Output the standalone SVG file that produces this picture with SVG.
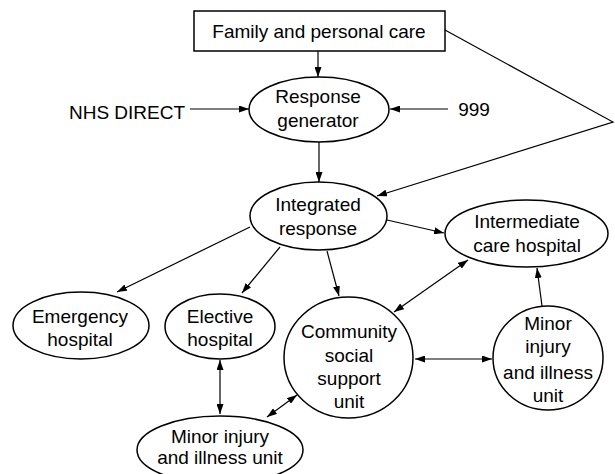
<svg xmlns="http://www.w3.org/2000/svg" width="615" height="474" viewBox="0 0 615 474">
<defs>
<marker id="ah" markerUnits="userSpaceOnUse" markerWidth="10" markerHeight="7" refX="10" refY="3.5" orient="auto-start-reverse">
<path d="M0,0 L10,3.5 L0,7 z" fill="#000"/>
</marker>
<style>
.n{fill:#fff;stroke:#000;stroke-width:1.5}
.t{font-family:"Liberation Sans",Arial,sans-serif;font-size:19px;fill:#000;text-anchor:middle}
.l{fill:none;stroke:#000;stroke-width:1.2}
.a{marker-end:url(#ah)}
.b{marker-start:url(#ah);marker-end:url(#ah)}
</style>
</defs>
<rect width="615" height="474" fill="#fff"/>
<g id="connectors">
<line class="l a" x1="318" y1="51" x2="318" y2="77"/>
<line class="l a" x1="190" y1="109" x2="249" y2="109"/>
<line class="l a" x1="448" y1="109" x2="390" y2="109"/>
<line class="l a" x1="319" y1="142" x2="319" y2="182"/>
<polyline class="l a" points="445,30 613,122 377,196"/>
<line class="l a" x1="387" y1="220" x2="444" y2="233"/>
<line class="l a" x1="250" y1="227" x2="117" y2="292"/>
<line class="l a" x1="280" y1="247" x2="242" y2="293"/>
<line class="l a" x1="327" y1="251" x2="339" y2="296"/>
<line class="l b" x1="394" y1="312" x2="468" y2="260"/>
<line class="l a" x1="542" y1="306" x2="537" y2="268"/>
<line class="l b" x1="415" y1="359" x2="492" y2="359"/>
<line class="l b" x1="220" y1="360" x2="220" y2="414"/>
<line class="l b" x1="267" y1="417" x2="297" y2="395"/>
</g>
<g id="family">
<rect class="n" x="194" y="11" width="251" height="40"/>
<text class="t" x="319" y="38">Family and personal care</text>
</g>
<g id="nhs-direct">
<text class="t" x="127" y="119">NHS DIRECT</text>
</g>
<g id="n999">
<text class="t" x="474" y="116">999</text>
</g>
<g id="response-generator">
<ellipse class="n" cx="319" cy="109.5" rx="70" ry="32.5"/>
<text class="t" x="318" y="103">Response</text>
<text class="t" x="318" y="127">generator</text>
</g>
<g id="integrated-response">
<ellipse class="n" cx="318.5" cy="216" rx="68.5" ry="34"/>
<text class="t" x="318" y="211">Integrated</text>
<text class="t" x="318" y="235">response</text>
</g>
<g id="intermediate-care-hospital">
<ellipse class="n" cx="526.5" cy="233.5" rx="81.5" ry="33.5"/>
<text class="t" x="527" y="228">Intermediate</text>
<text class="t" x="527" y="252">care hospital</text>
</g>
<g id="emergency-hospital">
<ellipse class="n" cx="81" cy="325.5" rx="68" ry="33.5"/>
<text class="t" x="80" y="323">Emergency</text>
<text class="t" x="80" y="346">hospital</text>
</g>
<g id="elective-hospital">
<ellipse class="n" cx="220" cy="326.5" rx="55" ry="32.5"/>
<text class="t" x="220" y="323">Elective</text>
<text class="t" x="220" y="346">hospital</text>
</g>
<g id="community-social-support-unit">
<ellipse class="n" cx="348.5" cy="357.5" rx="64.5" ry="60.5"/>
<text class="t" x="349" y="338">Community</text>
<text class="t" x="349" y="362">social</text>
<text class="t" x="349" y="385">support</text>
<text class="t" x="349" y="408">unit</text>
</g>
<g id="minor-injury-unit-right">
<ellipse class="n" cx="548" cy="358" rx="55" ry="52"/>
<text class="t" x="548" y="330">Minor</text>
<text class="t" x="548" y="353">injury</text>
<text class="t" x="548" y="379">and illness</text>
<text class="t" x="548" y="402">unit</text>
</g>
<g id="minor-injury-unit-bottom">
<ellipse class="n" cx="220" cy="450" rx="83" ry="34"/>
<text class="t" x="220" y="443">Minor injury</text>
<text class="t" x="220" y="464">and illness unit</text>
</g>
</svg>
